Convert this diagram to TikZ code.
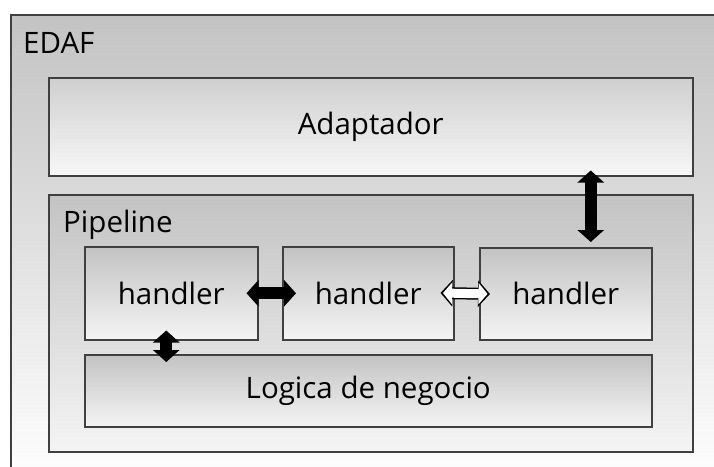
\documentclass[tikz,border=0pt]{standalone}
\usepackage{fontspec}
\setmainfont{Open Sans}
\usetikzlibrary{arrows.meta}

\definecolor{edge}{HTML}{404040}
\definecolor{shadetop}{HTML}{C3C3C3}
\definecolor{shadelow}{HTML}{F4F4F4}

\tikzset{
	box/.style={draw=edge, line width=1.5pt, anchor=north west, inner sep=0pt,
		top color=shadetop, bottom color=shadelow},
	link/.style={line width=12pt,
		{Triangle[width=26pt,length=12pt]}-{Triangle[width=26pt,length=12pt]}},
	hollow/.style={line width=9pt, white,
		{Triangle[width=21pt,length=9pt]}-{Triangle[width=21pt,length=9pt]}},
}

\begin{document}
\begin{tikzpicture}[
	x=1pt, y=-1pt,
	font=\fontsize{29.5}{35}\selectfont,
]
	\useasboundingbox[fill=white] (0,0) rectangle (714,466);

	\node [box, minimum width=720pt, minimum height=470pt, bottom color=white] (edaf) at (10,14) {};
	\node [anchor=base west, inner sep=0pt] (edaftxt) at (23,53) {EDAF};

	\node [box, minimum width=644pt, minimum height=98pt, top color=shadetop!80!white, bottom color=white!97!black] (adapt) at (48,77) {Adaptador};
	\node [box, minimum width=644pt, minimum height=257pt] (pipe) at (48,194) {};
	\node [anchor=base west, inner sep=0pt] (pipetxt) at (63,232) {Pipeline};

	\node [box, minimum width=173pt, minimum height=93pt] (h1) at (84,246) {handler};
	\node [box, minimum width=171pt, minimum height=93pt] (h2) at (282,246) {handler};
	\node [box, minimum width=172pt, minimum height=92pt] (h3) at (479,247) {handler};
	\node [box, minimum width=567pt, minimum height=72pt] (logic) at (84,354) {Logica de negocio};

	\draw [link, shorten <=-12pt, shorten >=-14pt] (h1.east) -- (h2.west);

	\draw [link, line width=12pt, shorten <=-14pt, shorten >=-11pt] (h2.east) -- (h3.west);
	\draw [hollow, shorten <=-11.5pt, shorten >=-8.5pt] (h2.east) -- (h3.west);

	\draw [link, shorten <=-6pt, shorten >=5pt] ([xshift=25pt]h3.north |- adapt.south) -- ([xshift=25pt]h3.north);
	\draw [link, shorten <=-10pt, shorten >=-8pt] ([xshift=-5pt]h1.south) -- ([xshift=-5pt]h1.south |- logic.north);
\end{tikzpicture}
\end{document}
